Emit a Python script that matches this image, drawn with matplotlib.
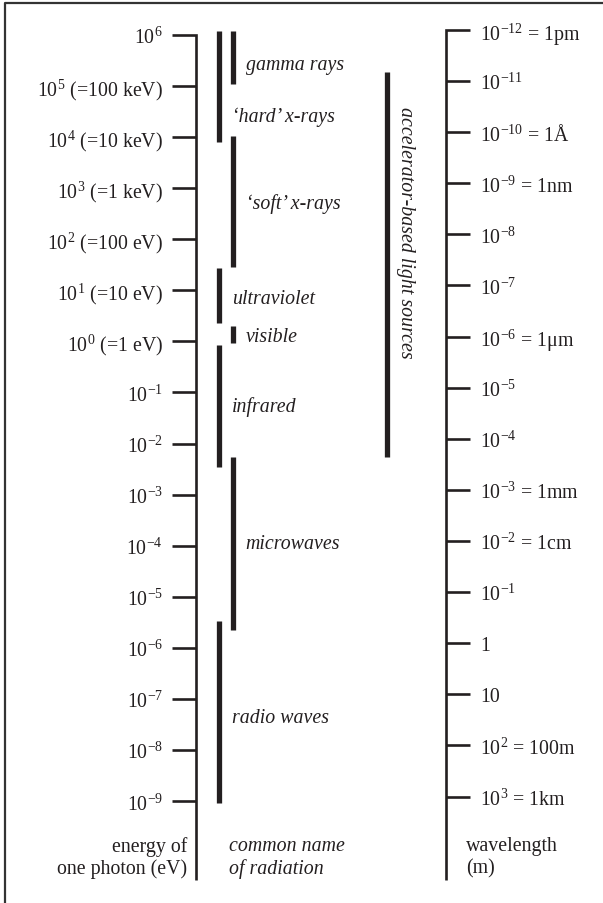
import numpy as np
import matplotlib.pyplot as plt
from matplotlib.lines import Line2D

plt.rcParams['font.family'] = ['Liberation Serif', 'DejaVu Serif']
plt.rcParams['mathtext.fontset'] = 'custom'
plt.rcParams['mathtext.rm'] = 'Liberation Serif'
plt.rcParams['mathtext.it'] = 'Liberation Serif:italic'

# energy scale (eV), one tick per decade
energy_exp = np.arange(6, -10, -1)
energy_labels = [r'$10^{6}$', r'$10^{5}$ (=100 keV)', r'$10^{4}$ (=10 keV)', r'$10^{3}$ (=1 keV)',
                 r'$10^{2}$ (=100 eV)', r'$10^{1}$ (=10 eV)', r'$10^{0}$ (=1 eV)',
                 r'$10^{-1}$', r'$10^{-2}$', r'$10^{-3}$', r'$10^{-4}$', r'$10^{-5}$',
                 r'$10^{-6}$', r'$10^{-7}$', r'$10^{-8}$', r'$10^{-9}$']

# wavelength scale (m)
wave_exp = np.arange(-12, 4)
wave_labels = [r'$10^{-12}$ = 1pm', r'$10^{-11}$', r'$10^{-10}$ = 1Å', r'$10^{-9}$ = 1nm',
               r'$10^{-8}$', r'$10^{-7}$', r'$10^{-6}$ = 1μm', r'$10^{-5}$', r'$10^{-4}$',
               r'$10^{-3}$ = 1mm', r'$10^{-2}$ = 1cm', r'$10^{-1}$', '1', '10',
               r'$10^{2}$ = 100m', r'$10^{3}$ = 1km']
HC = 1.23984e-6  # eV*m

# radiation bands, log10(eV)
band_names = ['gamma rays', '‘hard’ x-rays', '‘soft’ x-rays', 'ultraviolet',
              'visible', 'infrared', 'microwaves', 'radio waves']
band_high = [6.07, 6.07, 4.02, 1.43, 0.30, -0.07, -2.26, -5.47]
band_low = [5.03, 3.90, 1.45, 0.36, -0.03, -2.46, -5.65, -9.03]
band_column = [1, 0, 1, 0, 1, 0, 1, 0]
band_label_at = [5.47, 4.45, 2.76, 0.89, 0.14, -1.21, -3.90, -7.31]

accel_range = [-2.26, 5.27]
accel_label_at = 2.15

ink = '#231f20'
fs = 14.3

fig = plt.figure(figsize=(6.03, 9.04), dpi=100)
ax = fig.add_axes([0, 0, 1, 1])
ax.set_xlim(0, 603)
ax.set_yscale('log')
ax.set_ylim(10 ** -10.99, 10 ** 6.699)
ax.axis('off')

axis_bottom = 10 ** -10.54
col_x = [219, 232.5]

# energy axis
ax.plot([172, 196, 196], [10.0 ** 6, 10.0 ** 6, axis_bottom], color=ink, lw=1.9,
        solid_joinstyle='miter', solid_capstyle='butt')
ax.hlines(10.0 ** energy_exp[1:], 172, 196, color=ink, lw=1.9)
for e, lab in zip(energy_exp, energy_labels):
    ax.text(163, 10.0 ** e, lab, ha='right', va='center_baseline', fontsize=fs, color=ink)

# wavelength axis
wave_E = HC / 10.0 ** wave_exp
ax.plot([470, 446, 446], [wave_E[0], wave_E[0], axis_bottom], color=ink, lw=1.9,
        solid_joinstyle='miter', solid_capstyle='butt')
ax.hlines(wave_E[1:], 446, 470, color=ink, lw=1.9)
for E, lab in zip(wave_E, wave_labels):
    ax.text(480, E, lab, ha='left', va='center_baseline', fontsize=fs, color=ink)

# radiation bands
for name, hi, lo, col, at in zip(band_names, band_high, band_low, band_column, band_label_at):
    x = col_x[col]
    ax.vlines(x, 10.0 ** lo, 10.0 ** hi, color=ink, lw=3.8)
    ax.text(x + 13, 10.0 ** at, name, ha='left', va='center_baseline', style='italic',
            fontsize=fs, color=ink)

ax.vlines(387, 10.0 ** accel_range[0], 10.0 ** accel_range[1], color=ink, lw=3.8)
ax.text(405, 10.0 ** accel_label_at, 'accelerator-based light sources', rotation=270,
        ha='center', va='center', style='italic', fontsize=fs, color=ink)

# column captions
yb = 1 - 858 / 904
tr = ax.get_xaxis_transform()
ax.text(187, yb, 'energy of\none photon (eV)', transform=tr, ha='right', va='center',
        multialignment='right', linespacing=1.2, fontsize=fs, color=ink)
ax.text(229, yb, 'common name\nof radiation', transform=tr, ha='left', va='center',
        linespacing=1.2, style='italic', fontsize=fs, color=ink)
ax.text(466, yb, 'wavelength\n(m)', transform=tr, ha='left', va='center',
        linespacing=1.2, fontsize=fs, color=ink)

# frame (left and top only)
fig.add_artist(Line2D([5 / 603, 5 / 603, 1], [0, 1 - 3.5 / 904, 1 - 3.5 / 904],
                      transform=fig.transFigure, color='#333333', lw=1.6))

fig.savefig('out.png', dpi=100)
